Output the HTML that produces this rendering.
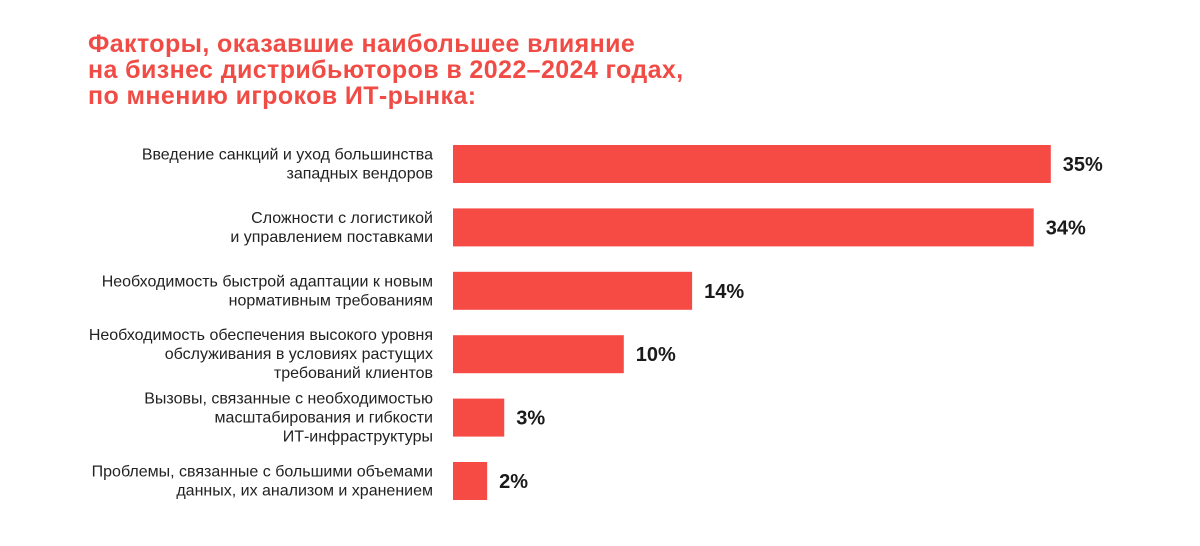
<!DOCTYPE html>
<html><head><meta charset="utf-8">
<style>
body{margin:0;width:1200px;height:546px;background:#fff;overflow:hidden;font-family:"Liberation Sans","DejaVu Sans",sans-serif;}
#title{position:absolute;left:88px;top:31px;color:#f04b45;font-weight:bold;font-size:25px;line-height:26px;letter-spacing:0.4px;margin:0;}
</style></head><body>
<h1 id="title">Факторы, оказавшие наибольшее влияние<br>на бизнес дистрибьюторов в 2022–2024 годах,<br>по мнению игроков ИТ-рынка:</h1>
<svg id="chart" width="1200" height="546" style="position:absolute;left:0;top:0"></svg>
<script>
const categories=[
 ["Введение санкций и уход большинства","западных вендоров"],
 ["Сложности с логистикой","и управлением поставками"],
 ["Необходимость быстрой адаптации к новым","нормативным требованиям"],
 ["Необходимость обеспечения высокого уровня","обслуживания в условиях растущих","требований клиентов"],
 ["Вызовы, связанные с необходимостью","масштабирования и гибкости","ИТ-инфраструктуры"],
 ["Проблемы, связанные с большими объемами","данных, их анализом и хранением"]
];
const values=[35,34,14,10,3,2];
const valueLabels=["35%","34%","14%","10%","3%","2%"];
const NS="http://www.w3.org/2000/svg";
const svg=document.getElementById('chart');
const x0=453, pxPer=17.08;
const xScale=v=>v*pxPer;
const yTop=145, pitch=63.4, barH=38;
const yScale=i=>yTop+i*pitch;
values.forEach((v,i)=>{
  const y=yScale(i);
  const r=document.createElementNS(NS,'rect');
  r.setAttribute('x',x0);r.setAttribute('y',y);r.setAttribute('width',xScale(v));r.setAttribute('height',barH);r.setAttribute('fill','#f64b45');
  
  
  svg.appendChild(r);
  const t=document.createElementNS(NS,'text');
  t.setAttribute('x',x0+xScale(v)+12);t.setAttribute('y',y+barH/2+7);
  t.setAttribute('font-size','20');t.setAttribute('font-weight','bold');t.setAttribute('fill','#1a1a1a');
  t.textContent=valueLabels[i];
  
  
  svg.appendChild(t);
  const lines=categories[i];
  const lh=19;
  const startY=y+barH/2-(lines.length-1)*lh/2+5;
  const g=document.createElementNS(NS,'text');
  g.setAttribute('text-anchor','end');g.setAttribute('font-size','16');g.setAttribute('fill','#222');
  
  
  lines.forEach((s,j)=>{
    const ts=document.createElementNS(NS,'tspan');
    ts.setAttribute('x',433);ts.setAttribute('y',startY+j*lh);ts.textContent=s;g.appendChild(ts);
  });
  svg.appendChild(g);
});
</script>
</body></html>
